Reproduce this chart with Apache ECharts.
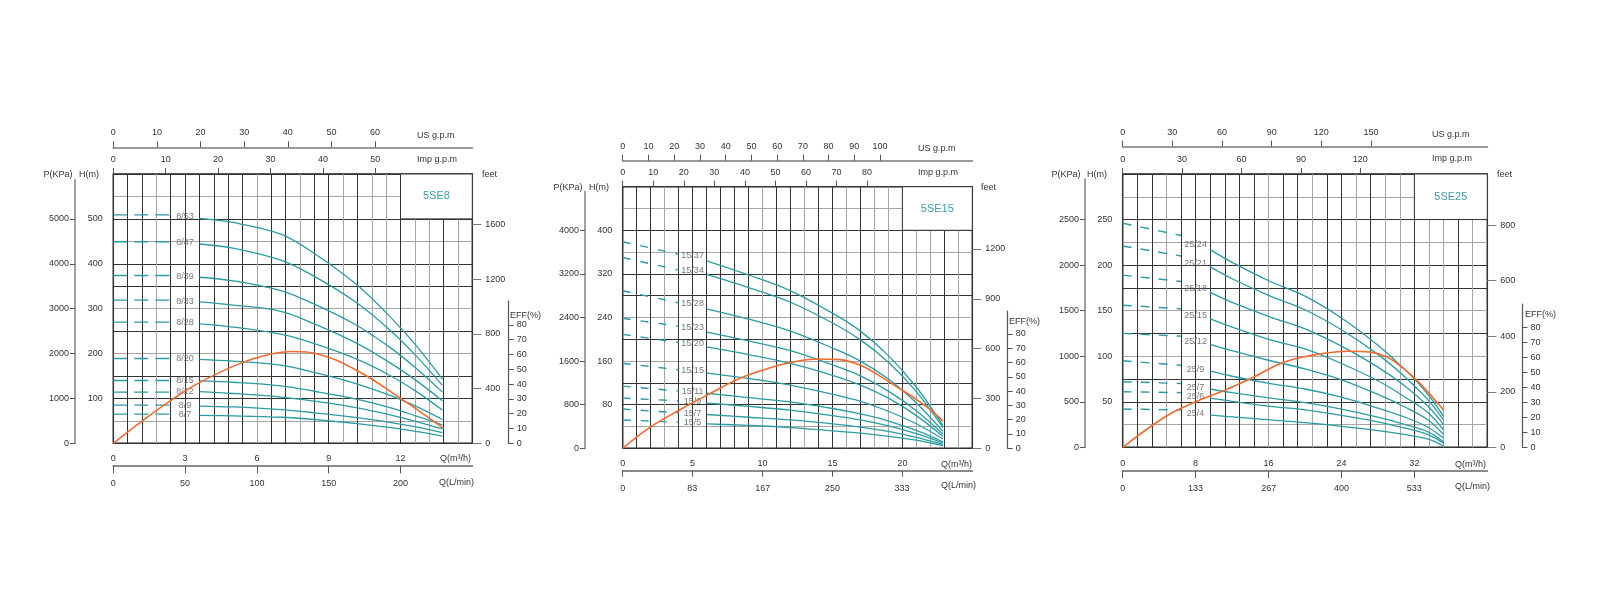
<!DOCTYPE html>
<html><head><meta charset="utf-8">
<script src="https://cdn.jsdelivr.net/npm/echarts@6/dist/echarts.min.js"></script>
<style>html,body{margin:0;padding:0;background:#fff}#c{width:1600px;height:600px}</style>
</head><body><div id="c"></div>
<script>
// ================= DATA =================
// ---- 5SE8 ----
const se8Names = ['8/53','8/47','8/39','8/33','8/28','8/20','8/15','8/12','8/9','8/7'];
const se8DashQ = [0, 2.4];
const se8DashH = [[509,509],[449,449],[374,374],[319,319],[270,270],[189,189],[140,140],[114,114],[85,85],[65,65]];
const se8CurveQ = [3.6, 5, 7, 8.4, 10.2, 11.6, 12.7, 13.75];
const se8CurveH = [
  [501,492,466,423,352,280,215,143],
  [444,435,408,372,312,250,192,129],
  [370,362,340,310,262,212,165,114],
  [315,308,294,266,222,178,138,95],
  [266,259,243,222,187,150,114,74],
  [187,183,174,158,132,106,81,53],
  [139,136,128,116,98,79,60,41],
  [115,111,103,94,79,63,48,32],
  [83,81,75,68,57,46,36,24],
  [62,61,58,53,44,35,26,16]
];
const se8EffQ = [0, 1.2, 2.5, 3.6, 5.3, 6.5, 7.5, 8.5, 10.2, 12.1, 13.8];
const se8Eff  = [0, 15, 30, 41, 54, 60, 62, 60.5, 49, 29.3, 10.1];
const se8QTicks = [0,3,6,9,12];
const se8LminTicks = [0,50,100,150,200];
const se8UsTicks = [0,10,20,30,40,50,60];
const se8ImpTicks = [0,10,20,30,40,50];
const se8HTicks = [100,200,300,400,500];
const se8PTicks = [0,1000,2000,3000,4000,5000];
const se8FeetTicks = [0,400,800,1200,1600];

// ---- 5SE15 ----
const se15Names = ['15/37','15/34','15/28','15/23','15/20','15/15','15/11','15/9','15/7','15/5'];
const se15DashQ = [0, 4.0];
const se15DashH = [[379,356],[350,327],[289,267],[238.5,224],[209,194],[156,144],[114,105],[92,87],[72,65],[52,48]];
const se15CurveQ = [6, 9, 12, 15, 17, 19, 21, 22.9];
const se15CurveH = [
  [344,318,289,248,215,170,112,42],
  [319,295,268,230,199,158,104,38],
  [256,237,215,184,160,127,83,31],
  [213,197,179,153,133,105,69,26],
  [186,172,156,134,116,92,60,22],
  [138,128,116,99,86,68,45,17],
  [101,93,85,73,63,50,33,12],
  [83,77,70,60,52,41,27,10],
  [62,57,52,45,39,31,20,7],
  [45,42,38,32,28,22,15,5]
];
const se15EffQ = [0, 2, 4.1, 6, 8.4, 10.8, 12, 14, 15.5, 17, 18.4, 19.6, 20.8, 22, 22.9];
const se15Eff  = [0, 15, 27, 37, 49, 57, 60, 62.4, 62, 58, 50.5, 43, 35.5, 27, 19];
const se15QTicks = [0,5,10,15,20];
const se15LminTicks = [0,83,167,250,333];
const se15UsTicks = [0,10,20,30,40,50,60,70,80,90,100];
const se15ImpTicks = [0,10,20,30,40,50,60,70,80];
const se15HTicks = [80,160,240,320,400];
const se15PTicks = [0,800,1600,2400,3200,4000];
const se15FeetTicks = [0,300,600,900,1200];

// ---- 5SE25 ----
const se25Names = ['25/24','25/21','25/18','25/15','25/12','25/9','25/7','25/6','25/4'];
const se25DashQ = [0, 6.4];
const se25DashH = [[246,232.5],[221,210],[189,182],[156,152],[125,122],[95,90],[72,70],[61,60],[42,41]];
const se25CurveQ = [9.6, 12, 16.2, 20, 24, 28, 31, 33.5, 35.2];
const se25CurveH = [
  [217,203,182,166,142,112,85,58,34],
  [198,185,166,151,129,102,77,52,30],
  [170,159,143,130,111,88,67,45,25],
  [141,132,118,108,92,73,55,38,19],
  [113,106,95,86,74,58,44,30,14],
  [83.5,78,70,64,55,43,33,22,10],
  [64,60,54,49,42,33,25,17,6],
  [54,50.5,45,41,35,28,21,14,4.4],
  [35.7,33.4,30,27,23,18.4,14,9,1.4]
];
const se25EffQ = [0, 4.8, 8, 11.2, 14.4, 17.3, 19.8, 24.9, 27.1, 29, 30.8, 32.6, 35.2];
const se25Eff  = [0, 20.9, 30.4, 38.2, 47, 56, 60.4, 64.2, 63.7, 60.4, 52.7, 42.7, 24.9];
const se25QTicks = [0,8,16,24,32];
const se25LminTicks = [0,133,267,400,533];
const se25UsTicks = [0,30,60,90,120,150];
const se25ImpTicks = [0,30,60,90,120];
const se25HTicks = [50,100,150,200,250];
const se25PTicks = [0,500,1000,1500,2000,2500];
const se25FeetTicks = [0,200,400,600,800];

const effTicks = [0,10,20,30,40,50,60,70,80];

// ================= LAYOUT / STYLE =================
const TEAL = '#2a9ca4', ORANGE = '#f26a2e', DARK = '#333', LIGHT = '#a5a5a5';
const FONT = 'Liberation Sans, Arial, sans-serif';
const layouts = [
  {title:'5SE8', left:113.3, top:174, right:472.3, bottom:443.3, qMax:15, qStep:0.6, hMax:600, hStep:50,
   usPx:4.362, impPx:5.24, usOff:26.7, botOff:22.4, lminMax:250, pX:75, pTop:180, effX:508.7, effTop:301, effPx:1.48,
   box:[12,500], dash:[14,7], labW:0.5, tickLen:7.6,
   names:{P:[58,175],H:[89,175],US:[417,135.5],IMP:[417,159.5],FEET:[482,174.5],QM:[440,459],QL:[439,482.5],EFF:[510,316]}},
  {title:'5SE15', left:622.7, top:186.7, right:972.3, bottom:448.3, qMax:25, qStep:1, hMax:480, hStep:40,
   usPx:2.574, impPx:3.055, usOff:26, botOff:22.4, lminMax:25000/60, pX:585, pTop:191.7, effX:1007.7, effTop:311, effPx:1.43,
   box:[20,400], dash:[8,10], labW:0.15, tickLen:6,
   names:{P:[568,187.5],H:[599,187.5],US:[918,149],IMP:[918,172.5],FEET:[981,187.5],QM:[941,465],QL:[941,486],EFF:[1009,322]}},
  {title:'5SE25', left:1122.7, top:174, right:1487.3, bottom:447.3, qMax:40, qStep:1.6, hMax:300, hStep:25,
   usPx:1.655, impPx:1.98, usOff:27.3, botOff:23.7, lminMax:40000/60, pX:1085, pTop:179.3, effX:1522.5, effTop:304, effPx:1.496,
   box:[32,250], dash:[9,9], labW:0.65, tickLen:7,
   names:{P:[1066,174.5],H:[1097,174.5],US:[1432,135],IMP:[1432,159],FEET:[1497,174.5],QM:[1455,464.5],QL:[1455,486.5],EFF:[1525,315]}}
];
const datasets = [
  {names:se8Names, dashQ:se8DashQ, dashH:se8DashH, curveQ:se8CurveQ, curveH:se8CurveH, effQ:se8EffQ, eff:se8Eff,
   q:se8QTicks, lmin:se8LminTicks, us:se8UsTicks, imp:se8ImpTicks, h:se8HTicks, p:se8PTicks, feet:se8FeetTicks},
  {names:se15Names, dashQ:se15DashQ, dashH:se15DashH, curveQ:se15CurveQ, curveH:se15CurveH, effQ:se15EffQ, eff:se15Eff,
   q:se15QTicks, lmin:se15LminTicks, us:se15UsTicks, imp:se15ImpTicks, h:se15HTicks, p:se15PTicks, feet:se15FeetTicks},
  {names:se25Names, dashQ:se25DashQ, dashH:se25DashH, curveQ:se25CurveQ, curveH:se25CurveH, effQ:se25EffQ, eff:se25Eff,
   q:se25QTicks, lmin:se25LminTicks, us:se25UsTicks, imp:se25ImpTicks, h:se25HTicks, p:se25PTicks, feet:se25FeetTicks}
];
// light/dark pattern of the grid lines (index = line number from min)
const vPattern = [DARK,DARK,DARK,LIGHT,DARK,DARK,DARK,DARK,DARK,DARK,LIGHT,DARK,DARK,LIGHT,DARK,DARK,LIGHT,DARK,LIGHT,LIGHT,DARK,LIGHT,LIGHT,DARK,LIGHT,DARK];
const hPattern = [DARK,LIGHT,DARK,DARK,LIGHT,DARK,LIGHT,DARK,DARK,LIGHT,DARK,LIGHT,DARK];

// ================= BUILD =================
const grid = [], xAxis = [], yAxis = [], series = [], graphic = [];
const plain = (v) => String(v);
const lab = (extra) => Object.assign({fontSize:9, color:'#333', fontFamily:FONT, formatter:plain}, extra);
const noLine = {show:false, onZero:false};

layouts.forEach((L, pi) => {
  const D = datasets[pi];
  const W = L.right - L.left, Hh = L.bottom - L.top;
  const pxPerH = Hh / L.hMax;
  const gMain = grid.length;
  grid.push({left:L.left, top:L.top, width:W, height:Hh, show:true, borderColor:'#222', borderWidth:1.5,
             backgroundColor:'transparent', containLabel:false, outerBoundsMode:'none'});
  const gP = grid.length;
  grid.push({left:L.pX, top:L.pTop, width:1, height:L.bottom - L.pTop, containLabel:false, outerBoundsMode:'none'});
  const gE = grid.length;
  grid.push({left:L.effX - 1, top:L.effTop, width:1, height:L.bottom - L.effTop, containLabel:false, outerBoundsMode:'none'});

  const xQ = xAxis.length;
  xAxis.push({gridIndex:gMain, type:'value', min:0, max:L.qMax, position:'bottom', offset:L.botOff,
    axisLine:{show:true, onZero:false, lineStyle:{color:'#8a8a8a', width:2}},
    axisTick:{show:true, inside:false, length:L.tickLen, customValues:D.q, lineStyle:{color:'#555'}},
    axisLabel:lab({inside:true, margin:3, customValues:D.q}),
    splitLine:{show:false}});
  xAxis.push({gridIndex:gMain, type:'value', min:0, max:L.qMax, interval:L.qStep, position:'bottom',
    axisLine:noLine, axisTick:{show:false}, axisLabel:{show:false},
    splitLine:{show:true, lineStyle:{color:vPattern, width:1}}});
  xAxis.push({gridIndex:gMain, type:'value', min:0, max:L.lminMax, position:'bottom', offset:L.botOff,
    axisLine:noLine, axisTick:{show:false}, axisLabel:lab({margin:13, customValues:D.lmin}), splitLine:{show:false}});
  xAxis.push({gridIndex:gMain, type:'value', min:0, max:W / L.usPx, position:'top', offset:L.usOff,
    axisLine:{show:true, onZero:false, lineStyle:{color:'#9a9a9a', width:2}},
    axisTick:{show:true, length:6, customValues:D.us, lineStyle:{color:'#555'}},
    axisLabel:lab({margin:10, customValues:D.us}), splitLine:{show:false}});
  xAxis.push({gridIndex:gMain, type:'value', min:0, max:W / L.impPx, position:'top', offset:0,
    axisLine:noLine, axisTick:{show:true, length:6, customValues:D.imp, lineStyle:{color:'#555'}},
    axisLabel:lab({margin:10, customValues:D.imp}), splitLine:{show:false}});
  xAxis.push({gridIndex:gP, type:'value', min:0, max:1, show:false});
  xAxis.push({gridIndex:gE, type:'value', min:0, max:1, show:false});

  const yH = yAxis.length;
  yAxis.push({gridIndex:gMain, type:'value', min:0, max:L.hMax, interval:L.hStep, position:'left',
    axisLine:noLine, axisTick:{show:false}, axisLabel:lab({margin:10.5, customValues:D.h}),
    splitLine:{show:true, lineStyle:{color:hPattern, width:1}}});
  yAxis.push({gridIndex:gMain, type:'value', min:0, max:L.hMax * 3.28084, position:'right',
    axisLine:noLine, axisTick:{show:true, length:9, customValues:D.feet, lineStyle:{color:'#777'}},
    axisLabel:lab({margin:13, customValues:D.feet}), splitLine:{show:false}});
  const yEff = yAxis.length;
  yAxis.push({gridIndex:gMain, type:'value', min:0, max:Hh / L.effPx, show:false, splitLine:{show:false}});
  yAxis.push({gridIndex:gP, type:'value', min:0, max:(L.bottom - L.pTop) / pxPerH * 10, position:'left',
    axisLine:{show:true, onZero:false, lineStyle:{color:'#a0a0a0', width:2}},
    axisTick:{show:true, length:5, customValues:D.p, lineStyle:{color:'#555'}},
    axisLabel:lab({margin:6, customValues:D.p}), splitLine:{show:false}});
  yAxis.push({gridIndex:gE, type:'value', min:0, max:(L.bottom - L.effTop) / L.effPx, position:'right',
    axisLine:{show:true, onZero:false, lineStyle:{color:'#555', width:1.2}},
    axisTick:{show:true, length:5, customValues:effTicks, lineStyle:{color:'#555'}},
    axisLabel:lab({margin:8, customValues:effTicks}), splitLine:{show:false}});

  const labelPts = [];
  D.names.forEach((nm, i) => {
    series.push({type:'line', name:nm+' dash', xAxisIndex:xQ, yAxisIndex:yH, silent:true, symbol:'none',
      data:D.dashQ.map((q, j) => [q, D.dashH[i][j]]),
      lineStyle:{color:TEAL, width:1.4, type:L.dash}});
    const s = {type:'line', name:nm, xAxisIndex:xQ, yAxisIndex:yH, silent:true, symbol:'none', smooth:0.35,
      data:D.curveQ.map((q, j) => [q, D.curveH[i][j]]),
      lineStyle:{color:TEAL, width:1.3}};
    if (i === 0) {
      s.markArea = {silent:true, itemStyle:{color:'#fff', borderColor:'#333', borderWidth:1},
        label:{show:true, position:'inside', color:'#3c9ea6', fontSize:11, fontFamily:FONT},
        data:[[{name:L.title, coord:[L.box[0], L.box[1]]}, {coord:[L.qMax, L.hMax]}]]};
    }
    series.push(s);
    const qe = D.dashQ[D.dashQ.length-1], he = D.dashH[i][D.dashH[i].length-1];
    const qs = D.curveQ[0], hs = D.curveH[i][0];
    labelPts.push({name:nm, value:[(qe+qs)/2, he + (hs-he)*L.labW]});
  });
  series.push({type:'scatter', xAxisIndex:xQ, yAxisIndex:yH, silent:true, symbolSize:0, data:labelPts,
    label:{show:true, position:'inside', formatter:'{b}', fontSize:9, color:'#555', fontFamily:FONT}});
  series.push({type:'line', name:'eff', xAxisIndex:xQ, yAxisIndex:yEff, silent:true, symbol:'none', smooth:0.4,
    data:D.effQ.map((q, j) => [q, D.eff[j]]), lineStyle:{color:ORANGE, width:1.6}, z:5});

  const N = L.names;
  const txt = (t, p, align) => graphic.push({type:'text', x:p[0], y:p[1], silent:true,
    style:{text:t, fontSize:9, fill:'#333', font:'9px ' + FONT, align:align||'left', verticalAlign:'middle'}});
  txt('P(KPa)', N.P, 'center'); txt('H(m)', N.H, 'center');
  txt('US g.p.m', N.US); txt('Imp g.p.m', N.IMP); txt('feet', N.FEET);
  txt('Q(m³/h)', N.QM); txt('Q(L/min)', N.QL); txt('EFF(%)', N.EFF);
});

const chart = echarts.init(document.getElementById('c'), null, {renderer:'canvas'});
chart.setOption({animation:false, backgroundColor:'#fff', textStyle:{fontFamily:FONT},
  grid, xAxis, yAxis, series, graphic});
</script></body></html>
